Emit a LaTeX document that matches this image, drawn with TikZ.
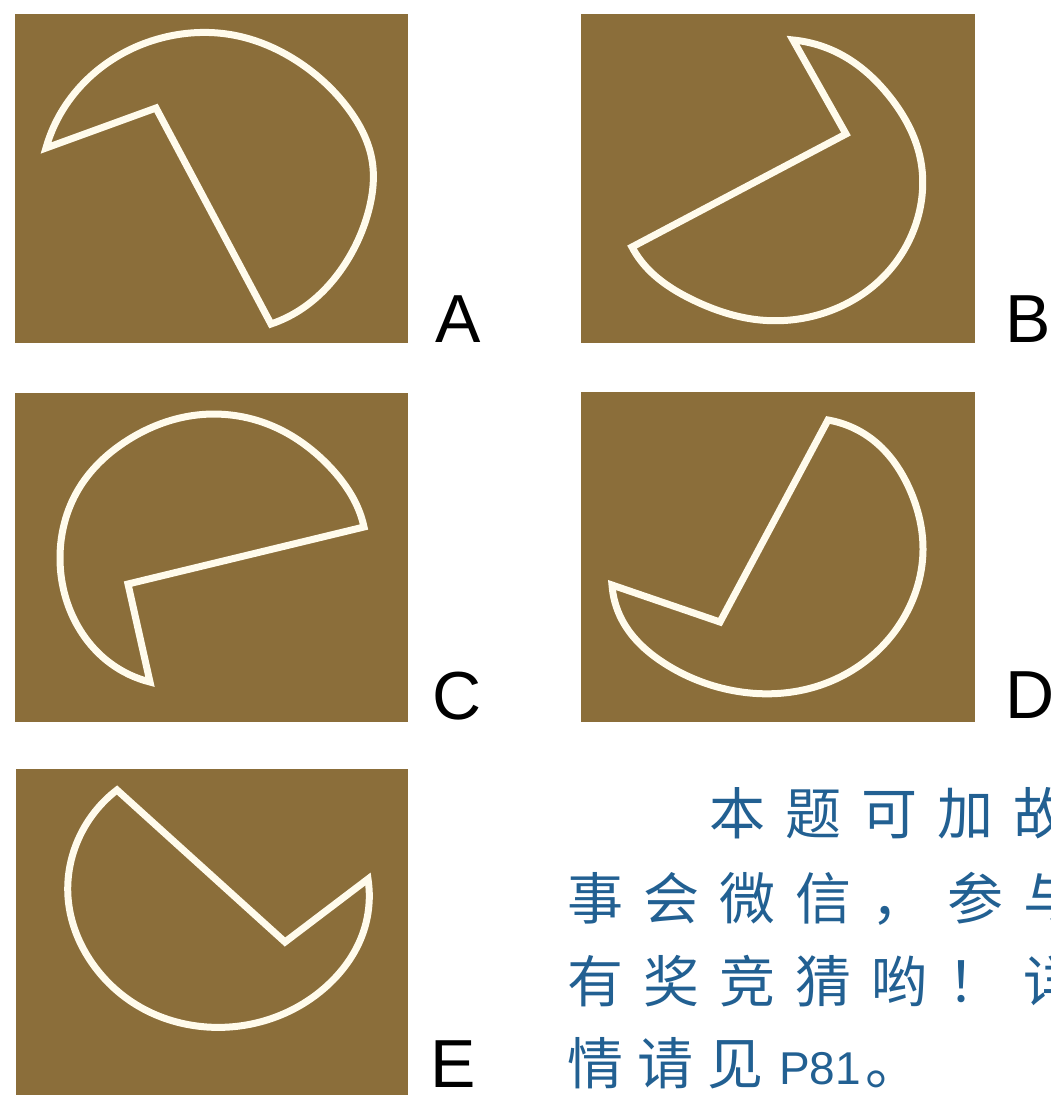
\documentclass[tikz,border=0pt]{standalone}
\usepackage{fontspec}
\setmainfont{Liberation Sans}
\newfontfamily\cjkfont{Noto Sans CJK SC}
\usepackage{tikz}
\usetikzlibrary{hobby}
\definecolor{pzbrown}{RGB}{139,110,58}
\definecolor{pzcream}{RGB}{255,251,236}
\definecolor{pzblue}{RGB}{34,96,146}
\tikzstyle{panel} = [fill=pzbrown, draw=none]
\tikzstyle{outline} = [draw=pzcream, line width=7pt, line join=miter]
\tikzstyle{letter} = [anchor=base west, inner sep=0pt, font=\fontsize{68}{68}\selectfont]
\tikzstyle{note} = [anchor=base west, inner sep=0pt, text=pzblue, font=\cjkfont\fontsize{56}{56}\selectfont]
\newcommand{\zgap}{\hspace{20pt}}
\newcommand{\ngap}{\hspace{14pt}}

\begin{document}
\begin{tikzpicture}[x=1pt, y=-1pt]
\clip (0,0) rectangle (1051,1095);
\fill[white] (0,0) rectangle (1051,1095);

% Panels
\fill[panel] (15,14) rectangle (408,343);
\fill[panel] (581,14) rectangle (975,343);
\fill[panel] (15,393) rectangle (408,722);
\fill[panel] (581,392) rectangle (975,722);
\fill[panel] (16,769) rectangle (408,1095);

% Shape A
\draw[outline] (156,108) -- (271,324) to[curve through={(300,310) (343,267) (368,213) (372,160) (347,107) (300,63) (233,35) (170,36) (103,66) (57,120)}] (46,148) -- cycle;

% Shape B
\draw[outline] (846,134) -- (793,40) to[curve through={(840,54) (890,97) (920,157) (918,217) (887,273) (827,312) (760,320) (693,300) (641,261)}] (632,247) -- cycle;

% Shape C
\draw[outline] (128,584) -- (150,682) to[curve through={(110,663) (73,617) (60,557) (78,490) (128,440) (197,415) (270,425) (330,467) (361,516)}] (364,527) -- cycle;

% Shape D
\draw[outline] (720,622) -- (828,420) to[curve through={(873,440) (910,490) (923,550) (908,610) (867,660) (803,690) (730,690) (667,665) (622,620)}] (612,585) -- cycle;

% Shape E
\draw[outline] (285,942) -- (368,879) to[curve through={(363,933) (330,983) (273,1018) (207,1027) (140,1007) (90,960) (68,897) (78,840) (98,808)}] (117,790) -- cycle;

% Labels
\node[letter] (labA) at (435,342) {A};
\node[letter] (labB) at (1005,342) {B};
\node[letter] (labC) at (432,719) {C};
\node[letter] (labD) at (1005,718) {D};
\node[letter] (labE) at (430,1087) {E};

% Note
\node[note] (note1) at (709,834) {本\zgap 题\zgap 可\zgap 加\zgap 故};
\node[note] (note2) at (567,919) {事\zgap 会\zgap 微\zgap 信\zgap ，\zgap 参\zgap 与};
\node[note] (note3) at (567,1002) {有\zgap 奖\zgap 竞\zgap 猜\zgap 哟\zgap ！\zgap 详};
\node[note] (note4) at (567,1084) {情\ngap 请\ngap 见\hspace{16pt}{\fontfamily{\rmdefault}\fontsize{46}{46}\selectfont P81}\hspace{4pt}。};
\end{tikzpicture}
\end{document}
